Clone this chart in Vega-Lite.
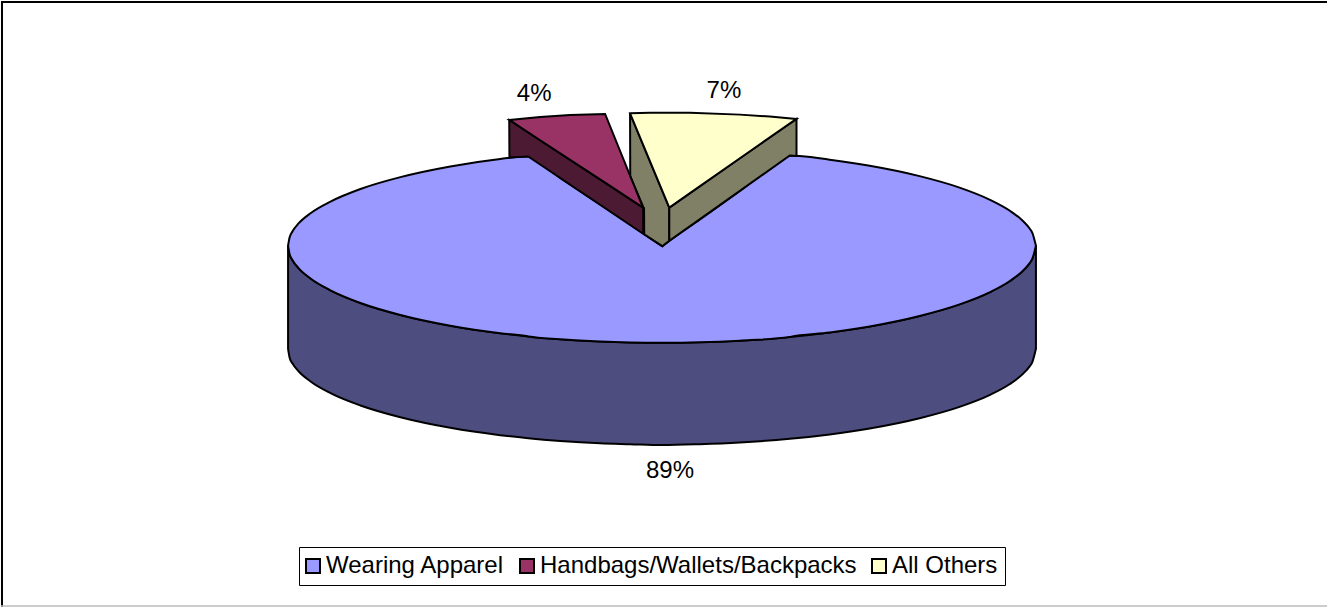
{
"$schema":"https://vega.github.io/schema/vega-lite/v6.json",
"width":1328,"height":608,"autosize":{"type":"fit","contains":"padding"},"padding":0,
"background":"white","view":{"stroke":null},
"config":{"font":"Liberation Sans"},
"datasets":{
"shapes":[
{"part":"Wearing Apparel side","x":287.5,"y":245.5,"y2":349},{"part":"Wearing Apparel side","x":289,"y":253.8,"y2":357.6},{"part":"Wearing Apparel side","x":292,"y":260.1,"y2":363.8},{"part":"Wearing Apparel side","x":298,"y":268,"y2":371.5},{"part":"Wearing Apparel side","x":310,"y":278.4,"y2":381.7},{"part":"Wearing Apparel side","x":330,"y":290.3,"y2":393.4},{"part":"Wearing Apparel side","x":360,"y":303,"y2":405.8},{"part":"Wearing Apparel side","x":400,"y":315,"y2":417.6},{"part":"Wearing Apparel side","x":450,"y":325.8,"y2":428.2},{"part":"Wearing Apparel side","x":500,"y":333.4,"y2":435.6},{"part":"Wearing Apparel side","x":528,"y":336.5,"y2":438.7},{"part":"Wearing Apparel side","x":560,"y":339.3,"y2":441.4},{"part":"Wearing Apparel side","x":600,"y":341.6,"y2":443.7},{"part":"Wearing Apparel side","x":630,"y":342.6,"y2":444.6},{"part":"Wearing Apparel side","x":662,"y":343,"y2":445.5},{"part":"Wearing Apparel side","x":700,"y":342.5,"y2":444.6},{"part":"Wearing Apparel side","x":740,"y":340.8,"y2":442.9},{"part":"Wearing Apparel side","x":790,"y":337.1,"y2":439.3},{"part":"Wearing Apparel side","x":830,"y":332.6,"y2":434.9},{"part":"Wearing Apparel side","x":870,"y":326.5,"y2":428.9},{"part":"Wearing Apparel side","x":920,"y":316,"y2":418.6},{"part":"Wearing Apparel side","x":960,"y":304.4,"y2":407.2},{"part":"Wearing Apparel side","x":990,"y":292.3,"y2":395.4},{"part":"Wearing Apparel side","x":1010,"y":281.2,"y2":384.5},{"part":"Wearing Apparel side","x":1024,"y":270.1,"y2":373.6},{"part":"Wearing Apparel side","x":1030,"y":263.2,"y2":366.8},{"part":"Wearing Apparel side","x":1033,"y":258.3,"y2":362},{"part":"Wearing Apparel side","x":1036.5,"y":245.5,"y2":349},
{"part":"Wearing Apparel","x":287.5,"y":245.5,"y2":245.5},{"part":"Wearing Apparel","x":289,"y":237.3,"y2":253.8},{"part":"Wearing Apparel","x":292,"y":231,"y2":260.1},{"part":"Wearing Apparel","x":298,"y":223.2,"y2":268},{"part":"Wearing Apparel","x":310,"y":212.9,"y2":278.4},{"part":"Wearing Apparel","x":330,"y":201.2,"y2":290.3},{"part":"Wearing Apparel","x":360,"y":188.6,"y2":303},{"part":"Wearing Apparel","x":400,"y":176.7,"y2":315},{"part":"Wearing Apparel","x":450,"y":166,"y2":325.8},{"part":"Wearing Apparel","x":500,"y":158.5,"y2":333.4},{"part":"Wearing Apparel","x":527.5,"y":155.8,"y2":336.4},{"part":"Wearing Apparel","x":528.5,"y":156.1,"y2":336.6},{"part":"Wearing Apparel","x":560,"y":177.4,"y2":339.3},{"part":"Wearing Apparel","x":600,"y":204.2,"y2":341.6},{"part":"Wearing Apparel","x":630,"y":224.3,"y2":342.6},{"part":"Wearing Apparel","x":661.8,"y":245.7,"y2":343},{"part":"Wearing Apparel","x":662.3,"y":246,"y2":343},{"part":"Wearing Apparel","x":662.8,"y":245.6,"y2":343},{"part":"Wearing Apparel","x":700,"y":219.1,"y2":342.5},{"part":"Wearing Apparel","x":740,"y":190.6,"y2":340.8},{"part":"Wearing Apparel","x":789.5,"y":155.3,"y2":337.2},{"part":"Wearing Apparel","x":790.5,"y":155,"y2":337},{"part":"Wearing Apparel","x":830,"y":159.3,"y2":332.6},{"part":"Wearing Apparel","x":870,"y":165.3,"y2":326.5},{"part":"Wearing Apparel","x":920,"y":175.7,"y2":316},{"part":"Wearing Apparel","x":960,"y":187.2,"y2":304.4},{"part":"Wearing Apparel","x":990,"y":199.2,"y2":292.3},{"part":"Wearing Apparel","x":1010,"y":210.2,"y2":281.2},{"part":"Wearing Apparel","x":1024,"y":221.2,"y2":270.1},{"part":"Wearing Apparel","x":1030,"y":228,"y2":263.2},{"part":"Wearing Apparel","x":1033,"y":232.8,"y2":258.3},{"part":"Wearing Apparel","x":1036.5,"y":245.5,"y2":245.5},
{"part":"All Others left side","x":630,"y":112.7,"y2":112.7},{"part":"All Others left side","x":630.2,"y":113.2,"y2":176},{"part":"All Others left side","x":643.5,"y":145.3,"y2":207.3},{"part":"All Others left side","x":644,"y":146.5,"y2":208},{"part":"All Others left side","x":644.2,"y":147,"y2":234},{"part":"All Others left side","x":662.3,"y":190.6,"y2":246},{"part":"All Others left side","x":669.3,"y":207.3,"y2":240.5},
{"part":"Handbags side","x":509,"y":119.3,"y2":119.3},{"part":"Handbags side","x":509.2,"y":119.4,"y2":157},{"part":"Handbags side","x":528,"y":131.8,"y2":156},{"part":"Handbags side","x":643.2,"y":207.4,"y2":233.5},
{"part":"Handbags/Wallets/Backpacks","x":509,"y":119.3,"y2":119.3},{"part":"Handbags/Wallets/Backpacks","x":540,"y":116.5,"y2":139.7},{"part":"Handbags/Wallets/Backpacks","x":570,"y":114.5,"y2":159.4},{"part":"Handbags/Wallets/Backpacks","x":605,"y":113.3,"y2":182.3},{"part":"Handbags/Wallets/Backpacks","x":643,"y":207.3,"y2":207.3},
{"part":"All Others right side","x":669.3,"y":207.3,"y2":240.5},{"part":"All Others right side","x":790,"y":122.7,"y2":155},{"part":"All Others right side","x":796.7,"y":118.3,"y2":155.5},
{"part":"All Others","x":630,"y":112.7,"y2":112.7},{"part":"All Others","x":650,"y":112,"y2":160.8},{"part":"All Others","x":669.3,"y":112,"y2":207.3},{"part":"All Others","x":690,"y":112.2,"y2":192.8},{"part":"All Others","x":740,"y":114,"y2":157.8},{"part":"All Others","x":770,"y":116,"y2":136.8},{"part":"All Others","x":796.7,"y":118.3,"y2":118.3}
],
"labels":[{"x":534,"y":93,"t":"4%"},{"x":724,"y":90,"t":"7%"},{"x":670,"y":471.5,"t":"89%"}],
"frame":[{"x":0,"y":1,"x2":1328,"y2":1,"c":"top"},{"x":1,"y":0,"x2":1,"y2":608,"c":"left"}],
"floor":[{"x":0,"y":607,"x2":1328,"y2":607}]
},
"encoding":{
"x":{"field":"x","type":"quantitative","scale":{"domain":[0,1328],"nice":false,"zero":false},"axis":null},
"y":{"field":"y","type":"quantitative","scale":{"domain":[608,0],"nice":false,"zero":false},"axis":null,"stack":null}
},
"layer":[
{"data":{"name":"frame"},"mark":{"type":"rule","stroke":"black","strokeWidth":2},"encoding":{"x2":{"field":"x2"},"y2":{"field":"y2"}}},
{"data":{"name":"floor"},"mark":{"type":"rule","stroke":"#bbbbbb","strokeWidth":1.5},"encoding":{"x2":{"field":"x2"},"y2":{"field":"y2"}}},
{"data":{"name":"shapes"},"transform":[{"filter":"datum.part==='Wearing Apparel side'"}],"mark":{"type":"area","orient":"vertical","interpolate":"monotone","stroke":"black","strokeWidth":2},"encoding":{"y2":{"field":"y2"},"fill":{"field":"part","type":"nominal","scale":{"domain":["Wearing Apparel","Handbags/Wallets/Backpacks","All Others","Wearing Apparel side","Handbags side","All Others left side","All Others right side"],"range":["#9999FF","#993366","#FFFFCC","#4D4D80","#4D1A33","#808066","#808066"]},"legend":{"values":["Wearing Apparel","Handbags/Wallets/Backpacks","All Others"],"title":null,"orient":"none","legendX":298,"legendY":546,"direction":"horizontal","columns":3,"padding":7,"strokeColor":"black","fillColor":"white","symbolType":"square","symbolSize":196,"symbolOffset":-5,"symbolStrokeColor":"black","symbolStrokeWidth":2,"labelFont":"Liberation Sans","labelFontSize":24,"labelColor":"black","labelOffset":1,"columnPadding":11,"labelLimit":400}}}},
{"data":{"name":"shapes"},"transform":[{"filter":"datum.part==='Wearing Apparel'"}],"mark":{"type":"area","orient":"vertical","interpolate":"monotone","stroke":"black","strokeWidth":2},"encoding":{"y2":{"field":"y2"},"fill":{"field":"part","type":"nominal"}}},
{"data":{"name":"shapes"},"transform":[{"filter":"datum.part==='All Others left side'"}],"mark":{"type":"area","orient":"vertical","stroke":"black","strokeWidth":2},"encoding":{"y2":{"field":"y2"},"fill":{"field":"part","type":"nominal"}}},
{"data":{"name":"shapes"},"transform":[{"filter":"datum.part==='Handbags side'"}],"mark":{"type":"area","orient":"vertical","stroke":"black","strokeWidth":2},"encoding":{"y2":{"field":"y2"},"fill":{"field":"part","type":"nominal"}}},
{"data":{"name":"shapes"},"transform":[{"filter":"datum.part==='Handbags/Wallets/Backpacks'"}],"mark":{"type":"area","orient":"vertical","stroke":"black","strokeWidth":2},"encoding":{"y2":{"field":"y2"},"fill":{"field":"part","type":"nominal"}}},
{"data":{"name":"shapes"},"transform":[{"filter":"datum.part==='All Others right side'"}],"mark":{"type":"area","orient":"vertical","stroke":"black","strokeWidth":2},"encoding":{"y2":{"field":"y2"},"fill":{"field":"part","type":"nominal"}}},
{"data":{"name":"shapes"},"transform":[{"filter":"datum.part==='All Others'"}],"mark":{"type":"area","orient":"vertical","stroke":"black","strokeWidth":2},"encoding":{"y2":{"field":"y2"},"fill":{"field":"part","type":"nominal"}}},
{"data":{"name":"labels"},"mark":{"type":"text","font":"Liberation Sans","fontSize":24,"color":"black","align":"center","baseline":"middle"},"encoding":{"text":{"field":"t","type":"nominal"}}}
]
}
